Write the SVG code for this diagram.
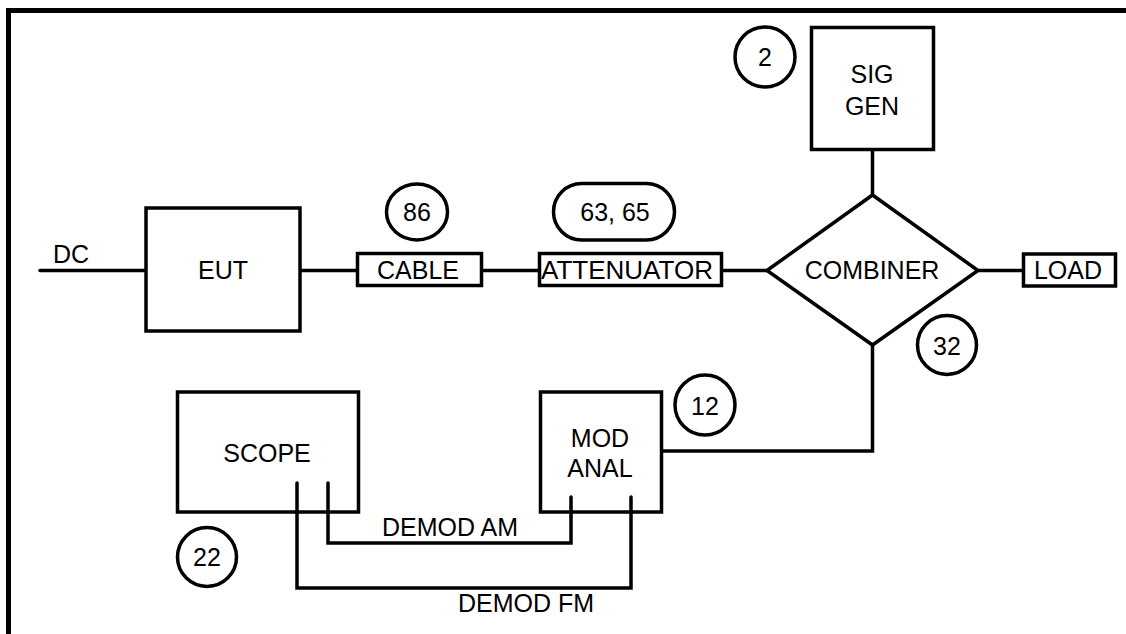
<svg xmlns="http://www.w3.org/2000/svg" width="1126" height="634" viewBox="0 0 1126 634">
<style>
.b{fill:#fff;stroke:#000;stroke-width:3.5}
.c{fill:none;stroke:#000;stroke-width:3.5}
.w{fill:none;stroke:#000;stroke-width:3.5;stroke-linecap:round}
text{font-family:"Liberation Sans",Arial,sans-serif;font-size:25px;fill:#000;text-anchor:middle}
</style>
<rect width="1126" height="634" fill="#fff"/>
<path d="M8.5 640 V10.5 H1130" fill="none" stroke="#000" stroke-width="5"/>
<g id="connectors">
<path class="w" d="M40 270.5 H146"/>
<path class="c" d="M300 270.5 H358"/>
<path class="c" d="M482 270.5 H540"/>
<path class="c" d="M722 270.5 H767"/>
<path class="c" d="M978 270.5 H1023"/>
<path class="c" d="M872.5 150 V195"/>
<path class="c" d="M872.5 345 V451 H662"/>
<path class="w" d="M328 483 V543 H571 V497"/>
<path class="w" d="M297 483 V588 H631 V497"/>
<text x="450" y="536">DEMOD AM</text>
<text x="526" y="612">DEMOD FM</text>
<text x="53" y="263" style="text-anchor:start">DC</text>
</g>
<g id="eut"><rect class="b" x="146" y="208" width="154" height="123"/><text x="223" y="279">EUT</text></g>
<g id="cable"><rect class="b" x="357.5" y="253.5" width="124" height="32"/><text x="418" y="279">CABLE</text></g>
<g id="attenuator"><rect class="b" x="539.5" y="253.5" width="182" height="32"/><text x="627" y="279" textLength="172" lengthAdjust="spacingAndGlyphs">ATTENUATOR</text></g>
<g id="combiner"><polygon class="b" points="767,270.5 872.5,195 978,270.5 872.5,345"/><text x="872" y="279">COMBINER</text></g>
<g id="load"><rect class="b" x="1023.5" y="254" width="92" height="32"/><text x="1068" y="279">LOAD</text></g>
<g id="siggen"><rect class="b" x="811.5" y="27.5" width="122" height="122"/><text x="872" y="83">SIG</text><text x="872" y="115">GEN</text></g>
<g id="modanal"><rect class="b" x="540.5" y="392" width="121" height="120"/><text x="600" y="447">MOD</text><text x="600" y="477">ANAL</text></g>
<g id="scope"><rect class="b" x="177.5" y="392" width="181" height="120"/><text x="267" y="462">SCOPE</text></g>
<path class="w" d="M328 483 V512 M297 483 V512 M571 497 V512 M631 497 V512"/>
<g id="ref86"><ellipse class="c" cx="417" cy="212" rx="30.5" ry="28"/><text x="417" y="221">86</text></g>
<g id="ref6365"><rect class="c" x="553.5" y="183.5" width="121" height="56.5" rx="28.25"/><text x="615" y="221">63, 65</text></g>
<g id="ref2"><circle class="c" cx="765" cy="57" r="30"/><text x="765" y="66">2</text></g>
<g id="ref32"><circle class="c" cx="947" cy="345" r="29.5"/><text x="947" y="355">32</text></g>
<g id="ref12"><circle class="c" cx="705" cy="405" r="30"/><text x="705" y="415">12</text></g>
<g id="ref22"><circle class="c" cx="207" cy="557" r="29.5"/><text x="207" y="566">22</text></g>
</svg>
